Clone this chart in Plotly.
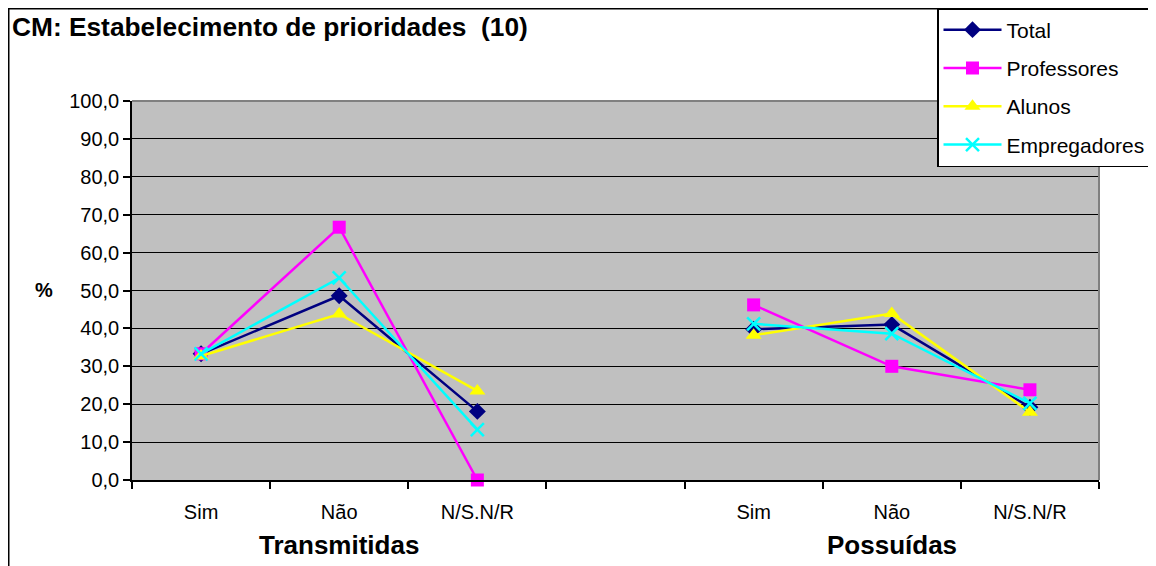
import plotly.graph_objects as go

# ---- data ----
categories = ["Sim", "Não", "N/S.N/R", "", "Sim", "Não", "N/S.N/R"]
groups = ["Transmitidas", "Possuídas"]
group_pos = [1, 5]
series_names = ["Total", "Professores", "Alunos", "Empregadores"]
total = [33.3, 48.6, 18.1, None, 39.8, 41.0, 19.2]
professores = [33.3, 66.7, 0.0, None, 46.2, 30.0, 23.8]
alunos = [32.7, 43.8, 23.5, None, 38.2, 43.9, 17.9]
empregadores = [33.3, 53.3, 13.3, None, 41.2, 38.6, 20.2]
y_ticks = [0, 10, 20, 30, 40, 50, 60, 70, 80, 90, 100]
title_text = "CM: Estabelecimento de prioridades  (10)"

values = [total, professores, alunos, empregadores]
colors = ["#000080", "#FF00FF", "#FFFF00", "#00FFFF"]
symbols = ["diamond", "square", "triangle-up", "x-thin-open"]
sizes = [13, 13, 14, 13]

xpos = list(range(len(categories)))

fig = go.Figure()
for name, vals, c, s, sz in zip(series_names, values, colors, symbols, sizes):
    marker = dict(symbol=s, size=sz, color=c)
    if s == "x-thin-open":
        marker["line"] = dict(color=c, width=2.5)
    fig.add_trace(go.Scatter(
        x=xpos, y=vals, name=name, mode="lines+markers",
        line=dict(color=c, width=2.5), marker=marker,
        connectgaps=False, cliponaxis=False, legendgroup=name,
    ))

# page body has an 8px margin: work in page pixels and shift
OFF = 8
PAGE_W, PAGE_H = 1156, 566
W, H = PAGE_W - OFF, PAGE_H - OFF
# plot area in page pixels
PX0, PX1, PY0, PY1 = 132, 1099, 101, 480
L, R, T, B = PX0 - OFF, W - (PX1 - OFF), PY0 - OFF, H - (PY1 - OFF)
pw, ph = PX1 - PX0, PY1 - PY0

def px_x(x):
    return (x - PX0) / pw

def px_y(y):
    return (PY1 - y) / ph

font = "Liberation Sans, Arial, sans-serif"

annotations = [
    dict(text="<b>%s</b>" % g, x=p, xref="x", y=px_y(545), yref="paper",
         showarrow=False, xanchor="center", yanchor="middle",
         font=dict(size=26, color="black", family=font))
    for g, p in zip(groups, group_pos)
]
annotations.append(dict(text="<b>%</b>", x=px_x(44), xref="paper", y=px_y(290), yref="paper",
                        showarrow=False, xanchor="center", yanchor="middle",
                        font=dict(size=20, color="black", family=font)))

shapes = [
    dict(type="rect", xref="paper", yref="paper", x0=px_x(OFF + 0.75), x1=px_x(1153),
         y0=px_y(590), y1=px_y(OFF + 0.75), line=dict(color="black", width=1.5), layer="above"),
    dict(type="line", xref="paper", yref="paper", x0=0, x1=1, y0=1, y1=1,
         line=dict(color="#808080", width=2), layer="above"),
    dict(type="line", xref="paper", yref="paper", x0=1, x1=1, y0=0, y1=1,
         line=dict(color="#808080", width=2), layer="above"),
]

fig.update_layout(
    width=W, height=H,
    margin=dict(l=L, r=R, t=T, b=B, autoexpand=False),
    paper_bgcolor="white", plot_bgcolor="#C0C0C0",
    separators=",.",
    font=dict(family=font, color="black", size=20),
    title=dict(text="<b>%s</b>" % title_text, xref="container", x=(12 - OFF) / W, xanchor="left",
               yref="container", y=1 - (27 - OFF) / H, yanchor="middle",
               font=dict(size=26.3, family=font, color="black")),
    showlegend=True,
    legend=dict(x=px_x(937), y=px_y(OFF), xanchor="left", yanchor="top",
                bgcolor="white", bordercolor="black", borderwidth=1.5,
                font=dict(size=21, family=font, color="black"),
                tracegroupgap=8, itemwidth=58),
    annotations=annotations,
    shapes=shapes,
)

fig.update_xaxes(
    range=[-0.5, len(categories) - 0.5],
    tickmode="array", tickvals=[i for i, c in enumerate(categories) if c],
    ticktext=[c for c in categories if c],
    ticks="", showgrid=False, zeroline=False,
    showline=True, linecolor="black", linewidth=1.5,
    ticklabelstandoff=13,
    tickfont=dict(size=20, family=font, color="black"),
    minor=dict(tickmode="array", tickvals=[i - 0.5 for i in range(len(categories) + 1)],
               ticks="outside", ticklen=7, tickcolor="black", tickwidth=1.5, showgrid=False),
)
fig.update_yaxes(
    range=[0, 100], tickmode="array", tickvals=y_ticks, tickformat=".1f",
    ticks="outside", ticklen=7, tickcolor="black", tickwidth=1.5,
    showgrid=True, gridcolor="black", gridwidth=1,
    showline=True, linecolor="black", linewidth=1.5, zeroline=False,
    tickfont=dict(size=20, family=font, color="black"),
)

fig.write_html("out.html")
